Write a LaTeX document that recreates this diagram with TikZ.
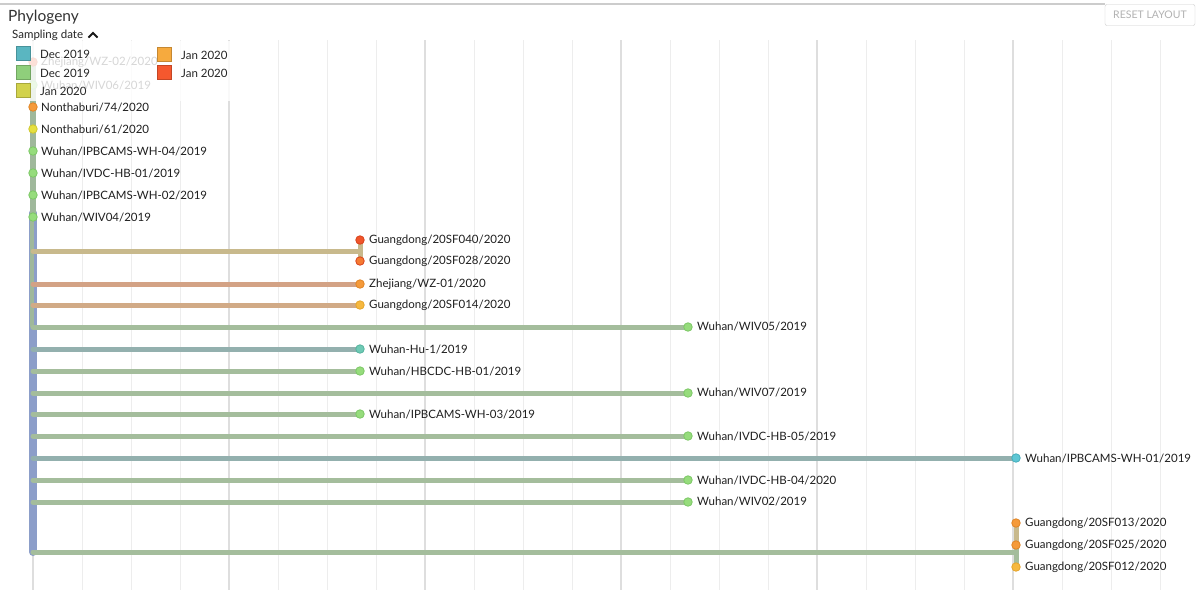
\documentclass[tikz,border=0pt]{standalone}
\usepackage{fontspec}
\setmainfont{Lato}
\begin{document}
\begin{tikzpicture}[x=1pt,y=-1pt,
  grid/.style={draw=black!7,line width=1pt},
  gridmajor/.style={draw=black!13,line width=1.3pt},
  branch/.style={line width=5pt,line cap=round},
  dot/.style={circle,inner sep=0pt,minimum size=8.5pt,line width=0.8pt},
  lbl/.style={anchor=west,inner sep=0pt,font=\fontsize{11.5}{12}\selectfont,text=black!88,yshift=-1.5pt},
  legsq/.style={minimum size=14pt,inner sep=0pt,line width=1pt},
  legtx/.style={anchor=west,inner sep=0pt,font=\fontsize{11.5}{12}\selectfont,text=black!85,yshift=-1pt}
]
\definecolor{stemblue}{HTML}{8C9EC9}
\definecolor{stemgreen}{HTML}{9FB89B}
\definecolor{brgreen}{HTML}{A4BD9C}
\definecolor{brteal}{HTML}{93B0AE}
\definecolor{brtan}{HTML}{C8B98C}
\definecolor{brsalmon}{HTML}{D3A285}
\definecolor{brtanor}{HTML}{D1AA86}
\definecolor{cgreen}{HTML}{96DC7C}
\definecolor{cgreenB}{HTML}{7CC866}
\definecolor{cteal}{HTML}{5EC6D4}
\definecolor{ctealB}{HTML}{45AEBB}
\definecolor{cmint}{HTML}{6FCAB5}
\definecolor{cmintB}{HTML}{55B39E}
\definecolor{cred}{HTML}{F0552B}
\definecolor{credB}{HTML}{D8431C}
\definecolor{corred}{HTML}{F57A32}
\definecolor{corange}{HTML}{F59A3A}
\definecolor{corangeB}{HTML}{E08526}
\definecolor{cyel}{HTML}{F6B83F}
\definecolor{cyelB}{HTML}{E5A52C}
\definecolor{clime}{HTML}{E6E040}
\definecolor{climeB}{HTML}{CFC82E}
\definecolor{lgteal}{HTML}{5AB6C1}
\definecolor{lggreen}{HTML}{8FCF7B}
\definecolor{lgyel}{HTML}{D2D24C}
\definecolor{lgor}{HTML}{F6AA3E}
\definecolor{lgred}{HTML}{F5582E}
\useasboundingbox (0,0) rectangle (1200,590);
\fill[white] (0,0) rectangle (1200,590);
% header
\draw[black!20,line width=2pt] (0,4) -- (1105,4);
\node[anchor=west,inner sep=0pt,font=\fontsize{15.5}{16}\selectfont,text=black!80] (title) at (8,17) {Phylogeny};
\node[draw=black!20,rounded corners=2pt,minimum width=90pt,minimum height=21pt,inner sep=0pt,
  font=\fontsize{10.5}{11}\selectfont,text=black!30] (reset) at (1150,15) {RESET LAYOUT};
% grid
\foreach \k in {0,...,23}{
  \pgfmathtruncatemacro{\m}{mod(\k,4)}
  \ifnum\m=0
    \draw[gridmajor] ({33+49*\k},40) -- ({33+49*\k},590);
  \else
    \draw[grid] ({33+49*\k},40) -- ({33+49*\k},590);
  \fi
}
% tip coordinates
\coordinate (p1) at (33,62);
\coordinate (p2) at (33,85);
\coordinate (p3) at (33,107);
\coordinate (p4) at (33,129);
\coordinate (p5) at (33,151);
\coordinate (p6) at (33,173);
\coordinate (p7) at (33,195);
\coordinate (p8) at (33,217);
\coordinate (s9) at (33,251);
\coordinate (j9) at (360,251);
\coordinate (p9a) at (360,240);
\coordinate (p9b) at (360,261);
\coordinate (s10) at (33,284);  \coordinate (p10) at (360,284);
\coordinate (s11) at (33,305);  \coordinate (p11) at (360,305);
\coordinate (s12) at (33,327);  \coordinate (p12) at (688,327);
\coordinate (s13) at (33,349);  \coordinate (p13) at (360,349);
\coordinate (s14) at (33,371);  \coordinate (p14) at (360,371);
\coordinate (s15) at (33,393);  \coordinate (p15) at (688,393);
\coordinate (s16) at (33,414);  \coordinate (p16) at (360,414);
\coordinate (s17) at (33,436);  \coordinate (p17) at (688,436);
\coordinate (s18) at (33,458);  \coordinate (p18) at (1016,458);
\coordinate (s19) at (33,480);  \coordinate (p19) at (688,480);
\coordinate (s20) at (33,502);  \coordinate (p20) at (688,502);
\coordinate (s21) at (33,552);  \coordinate (j21) at (1016,552);
\coordinate (p21a) at (1016,523);
\coordinate (p21b) at (1016,545);
\coordinate (p21c) at (1016,567);
% stems
\draw[stemblue,line width=8pt,line cap=round] (33,213) -- (s21);
\draw[stemgreen,line width=6pt] (p1) -- (33,213);
\draw[stemgreen,line width=3.5pt] (32,213) -- (32,327);
% branches
\draw[branch,brtan] (s9) -- (j9);
\draw[branch,brtan] (p9a) -- (p9b);
\draw[branch,brsalmon] (s10) -- (p10);
\draw[branch,brtanor] (s11) -- (p11);
\draw[branch,brgreen] (s12) -- (p12);
\draw[branch,brteal] (s13) -- (p13);
\draw[branch,brgreen] (s14) -- (p14);
\draw[branch,brgreen] (s15) -- (p15);
\draw[branch,brgreen] (s16) -- (p16);
\draw[branch,brgreen] (s17) -- (p17);
\draw[branch,brteal] (s18) -- (p18);
\draw[branch,brgreen] (s19) -- (p19);
\draw[branch,brgreen] (s20) -- (p20);
\draw[branch,brgreen] (s21) -- (j21);
\draw[branch,brtan] (p21a) -- (p21b);
\draw[branch,brgreen] (p21b) -- (p21c);
% tip dots
\node[dot,fill=cred,draw=credB] (d1) at (p1) {};
\node[dot,fill=cgreen,draw=cgreenB] (d2) at (p2) {};
\node[dot,fill=corange,draw=corangeB] (d3) at (p3) {};
\node[dot,fill=clime,draw=climeB] (d4) at (p4) {};
\node[dot,fill=cgreen,draw=cgreenB] (d5) at (p5) {};
\node[dot,fill=cgreen,draw=cgreenB] (d6) at (p6) {};
\node[dot,fill=cgreen,draw=cgreenB] (d7) at (p7) {};
\node[dot,fill=cgreen,draw=cgreenB] (d8) at (p8) {};
\node[dot,fill=cred,draw=credB] (d9a) at (p9a) {};
\node[dot,fill=corred,draw=credB] (d9b) at (p9b) {};
\node[dot,fill=corange,draw=corangeB] (d10) at (p10) {};
\node[dot,fill=cyel,draw=cyelB] (d11) at (p11) {};
\node[dot,fill=cgreen,draw=cgreenB] (d12) at (p12) {};
\node[dot,fill=cmint,draw=cmintB] (d13) at (p13) {};
\node[dot,fill=cgreen,draw=cgreenB] (d14) at (p14) {};
\node[dot,fill=cgreen,draw=cgreenB] (d15) at (p15) {};
\node[dot,fill=cgreen,draw=cgreenB] (d16) at (p16) {};
\node[dot,fill=cgreen,draw=cgreenB] (d17) at (p17) {};
\node[dot,fill=cteal,draw=ctealB] (d18) at (p18) {};
\node[dot,fill=cgreen,draw=cgreenB] (d19) at (p19) {};
\node[dot,fill=cgreen,draw=cgreenB] (d20) at (p20) {};
\node[dot,fill=corange,draw=corangeB] (d21a) at (p21a) {};
\node[dot,fill=corange,draw=corangeB] (d21b) at (p21b) {};
\node[dot,fill=cyel,draw=cyelB] (d21c) at (p21c) {};
% labels
\node[lbl] (l1) at (41,61) {Zhejiang/WZ-02/2020};
\node[lbl] (l2) at (41,84) {Wuhan/WIV06/2019};
\node[lbl] (l3) at (41,106) {Nonthaburi/74/2020};
\node[lbl] (l4) at (41,128) {Nonthaburi/61/2020};
\node[lbl] (l5) at (41,150) {Wuhan/IPBCAMS-WH-04/2019};
\node[lbl] (l6) at (41,172) {Wuhan/IVDC-HB-01/2019};
\node[lbl] (l7) at (41,194) {Wuhan/IPBCAMS-WH-02/2019};
\node[lbl] (l8) at (41,216) {Wuhan/WIV04/2019};
\node[lbl] (l9a) at (369,239) {Guangdong/20SF040/2020};
\node[lbl] (l9b) at (369,260) {Guangdong/20SF028/2020};
\node[lbl] (l10) at (369,283) {Zhejiang/WZ-01/2020};
\node[lbl] (l11) at (369,304) {Guangdong/20SF014/2020};
\node[lbl] (l12) at (697,325) {Wuhan/WIV05/2019};
\node[lbl] (l13) at (369,348) {Wuhan-Hu-1/2019};
\node[lbl] (l14) at (369,370) {Wuhan/HBCDC-HB-01/2019};
\node[lbl] (l15) at (697,391) {Wuhan/WIV07/2019};
\node[lbl] (l16) at (369,413) {Wuhan/IPBCAMS-WH-03/2019};
\node[lbl] (l17) at (697,435) {Wuhan/IVDC-HB-05/2019};
\node[lbl] (l18) at (1025,457) {Wuhan/IPBCAMS-WH-01/2019};
\node[lbl] (l19) at (697,479) {Wuhan/IVDC-HB-04/2020};
\node[lbl] (l20) at (697,500) {Wuhan/WIV02/2019};
\node[lbl] (l21a) at (1025,522) {Guangdong/20SF013/2020};
\node[lbl] (l21b) at (1025,544) {Guangdong/20SF025/2020};
\node[lbl] (l21c) at (1025,566) {Guangdong/20SF012/2020};
% legend
\fill[white,fill opacity=0.82] (8,41) rectangle (232,101);
\node[anchor=west,inner sep=0pt,font=\fontsize{11.5}{12}\selectfont,text=black!85] (sd) at (12,35) {Sampling date};
\draw[black!90,line width=2pt,line join=miter] (88.5,37.5) -- (93,33) -- (97.5,37.5);
\node[legsq,fill=lgteal,draw=lgteal!80!black] (q1) at (23.5,53.5) {};
\node[legsq,fill=lggreen,draw=lggreen!80!black] (q2) at (23.5,72) {};
\node[legsq,fill=lgyel,draw=lgyel!80!black] (q3) at (23.5,90.5) {};
\node[legsq,fill=lgor,draw=lgor!80!black] (q4) at (164.5,54.5) {};
\node[legsq,fill=lgred,draw=lgred!80!black] (q5) at (164.5,72.5) {};
\node[legtx] (t1) at (40,53.5) {Dec 2019};
\node[legtx] (t2) at (40,72) {Dec 2019};
\node[legtx] (t3) at (40,90.5) {Jan 2020};
\node[legtx] (t4) at (181,54.5) {Jan 2020};
\node[legtx] (t5) at (181,72.5) {Jan 2020};
\end{tikzpicture}
\end{document}
